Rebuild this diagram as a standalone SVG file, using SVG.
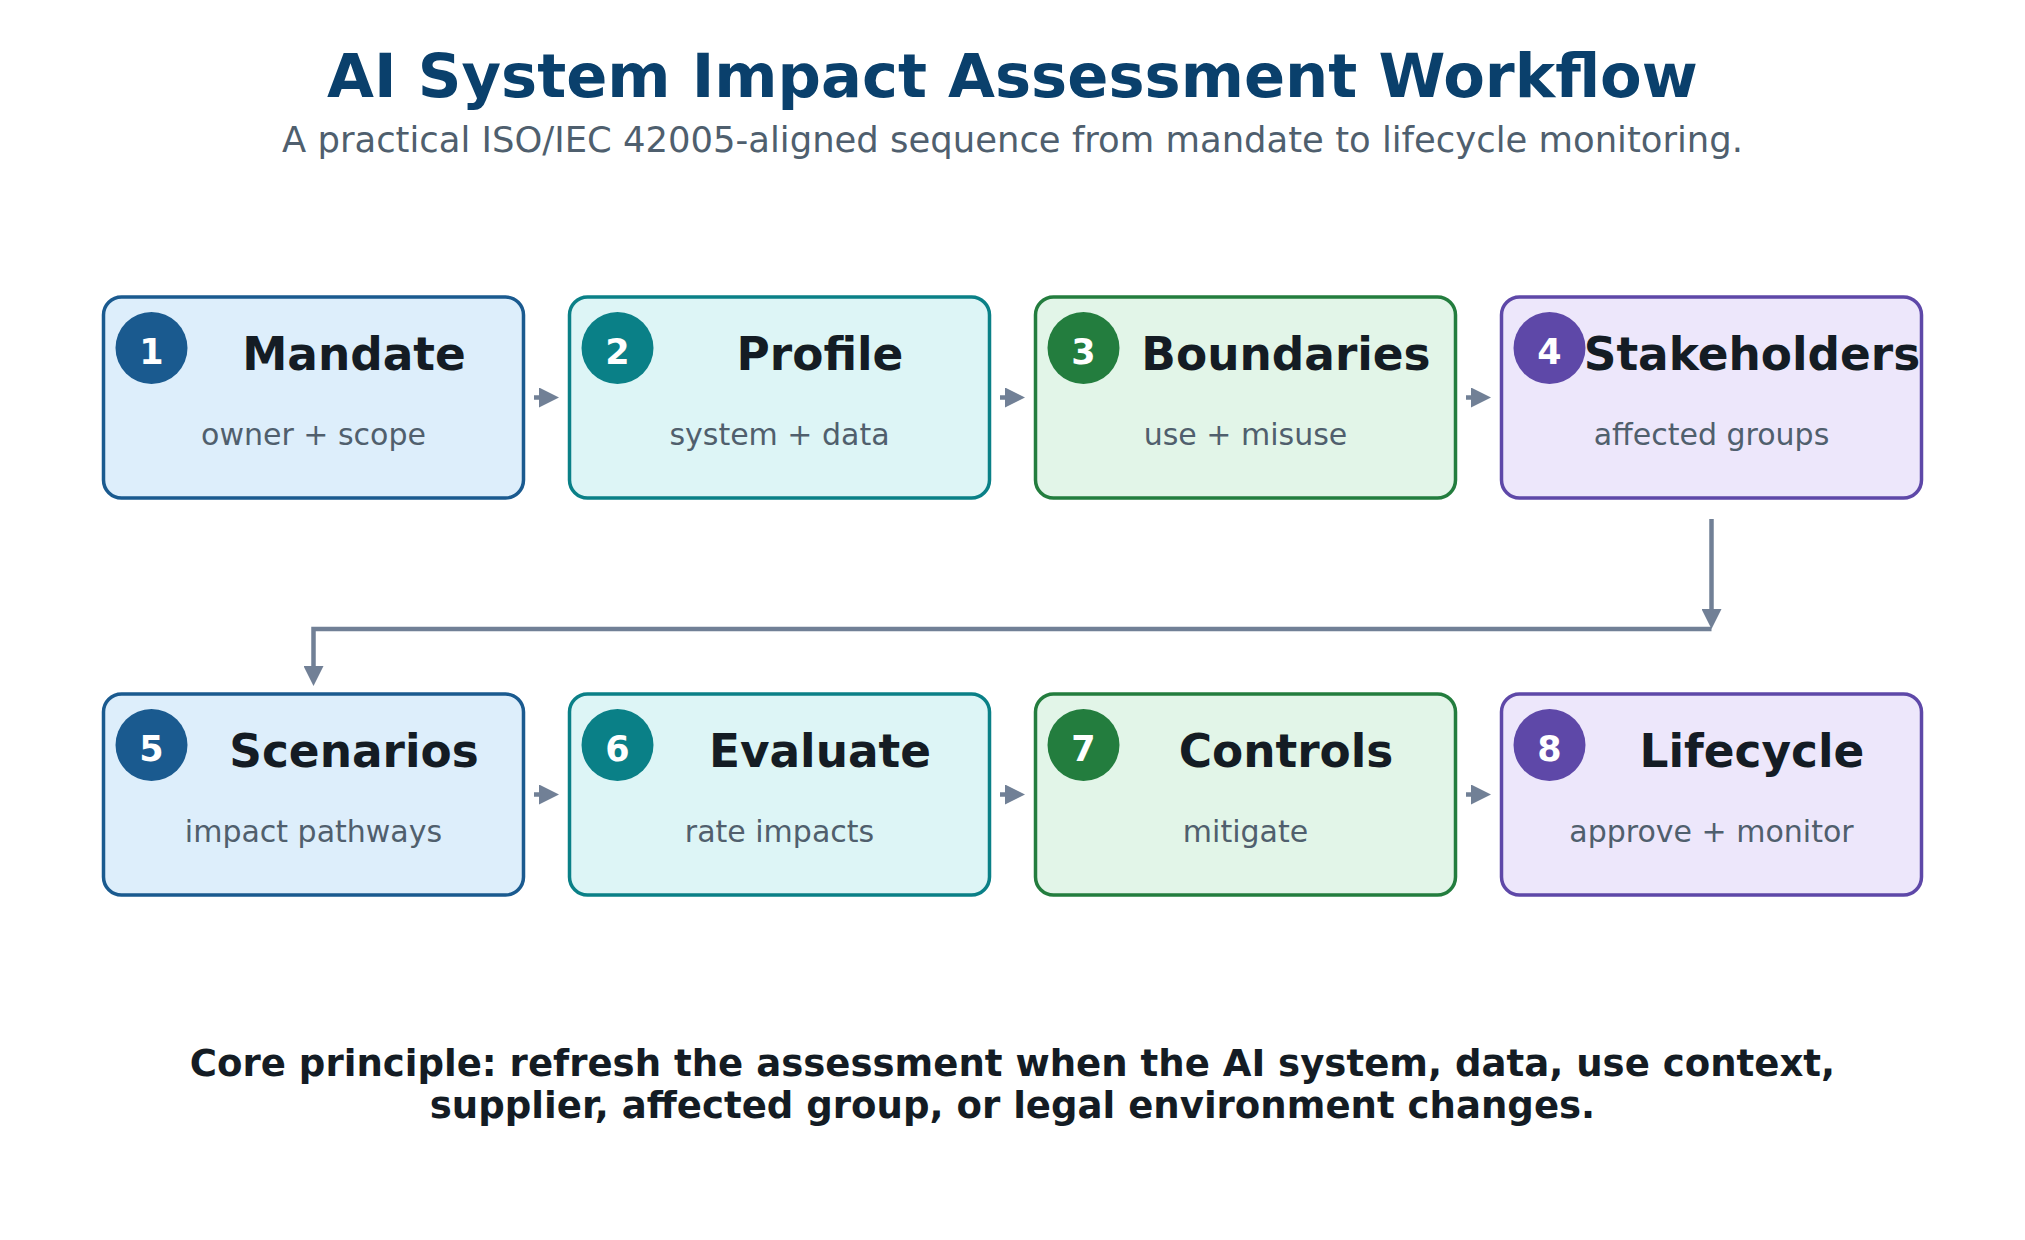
<svg xmlns="http://www.w3.org/2000/svg" width="2025" height="1240" viewBox="0 0 2025 1240">
  <defs>
    <marker id="arrow" markerUnits="userSpaceOnUse" markerWidth="20" markerHeight="20" refX="2" refY="10" orient="auto">
      <path d="M0,0 L20,10 L0,20 Z" fill="#718096"/>
    </marker>
  </defs>
  <style>
    text { font-family: "DejaVu Sans", "Liberation Sans", sans-serif; }
    .title { font-size: 60.7px; font-weight: bold; fill: #0a406c; text-anchor: middle; }
    .subtitle { font-size: 35.4px; fill: #4f5f6e; text-anchor: middle; }
    .box { stroke-width: 3.5; }
    .b1 { fill: #ddeefb; stroke: #1a5a8f; }
    .b2 { fill: #ddf5f6; stroke: #0a8087; }
    .b3 { fill: #e2f5e8; stroke: #237d3e; }
    .b4 { fill: #ede7fb; stroke: #5e48a8; }
    .c1 { fill: #1a5a8f; }
    .c2 { fill: #0a8087; }
    .c3 { fill: #237d3e; }
    .c4 { fill: #5e48a8; }
    .num { font-size: 35px; font-weight: bold; fill: #ffffff; text-anchor: middle; }
    .label { font-size: 45.4px; font-weight: bold; fill: #141c24; text-anchor: middle; }
    .sub { font-size: 30px; fill: #505f6d; text-anchor: middle; }
    .conn { fill: none; stroke: #718096; stroke-width: 4.5; marker-end: url(#arrow); }
    .note { font-size: 37.1px; font-weight: bold; fill: #141c24; text-anchor: middle; }
  </style>
  <rect x="0" y="0" width="2025" height="1240" fill="#ffffff"/>
  <g id="header">
    <text class="title" x="1012.5" y="97">AI System Impact Assessment Workflow</text>
    <text class="subtitle" x="1012.5" y="152">A practical ISO/IEC 42005-aligned sequence from mandate to lifecycle monitoring.</text>
  </g>
  <g id="connectors">
    <path class="conn" d="M534,397.5 H541"/>
    <path class="conn" d="M1000,397.5 H1007"/>
    <path class="conn" d="M1466,397.5 H1473"/>
    <path class="conn" d="M1711.5,519 V611"/>
    <path class="conn" d="M1711.5,629 H313.5 V668"/>
    <path class="conn" d="M534,794.5 H541"/>
    <path class="conn" d="M1000,794.5 H1007"/>
    <path class="conn" d="M1466,794.5 H1473"/>
  </g>
  <g id="node1">
    <rect class="box b1" x="103.5" y="297" width="420" height="201" rx="18"/>
    <circle class="c1" cx="151.5" cy="348" r="36"/>
    <text class="num" x="151.5" y="364">1</text>
    <text class="label" x="354" y="370">Mandate</text>
    <text class="sub" x="313.5" y="445">owner + scope</text>
  </g>
  <g id="node2">
    <rect class="box b2" x="569.5" y="297" width="420" height="201" rx="18"/>
    <circle class="c2" cx="617.5" cy="348" r="36"/>
    <text class="num" x="617.5" y="364">2</text>
    <text class="label" x="820" y="370">Profile</text>
    <text class="sub" x="779.5" y="445">system + data</text>
  </g>
  <g id="node3">
    <rect class="box b3" x="1035.5" y="297" width="420" height="201" rx="18"/>
    <circle class="c3" cx="1083.5" cy="348" r="36"/>
    <text class="num" x="1083.5" y="364">3</text>
    <text class="label" x="1286" y="370">Boundaries</text>
    <text class="sub" x="1245.5" y="445">use + misuse</text>
  </g>
  <g id="node4">
    <rect class="box b4" x="1501.5" y="297" width="420" height="201" rx="18"/>
    <circle class="c4" cx="1549.5" cy="348" r="36"/>
    <text class="num" x="1549.5" y="364">4</text>
    <text class="label" x="1752" y="370">Stakeholders</text>
    <text class="sub" x="1711.5" y="445">affected groups</text>
  </g>
  <g id="node5">
    <rect class="box b1" x="103.5" y="694" width="420" height="201" rx="18"/>
    <circle class="c1" cx="151.5" cy="745" r="36"/>
    <text class="num" x="151.5" y="761">5</text>
    <text class="label" x="354" y="767">Scenarios</text>
    <text class="sub" x="313.5" y="842">impact pathways</text>
  </g>
  <g id="node6">
    <rect class="box b2" x="569.5" y="694" width="420" height="201" rx="18"/>
    <circle class="c2" cx="617.5" cy="745" r="36"/>
    <text class="num" x="617.5" y="761">6</text>
    <text class="label" x="820" y="767">Evaluate</text>
    <text class="sub" x="779.5" y="842">rate impacts</text>
  </g>
  <g id="node7">
    <rect class="box b3" x="1035.5" y="694" width="420" height="201" rx="18"/>
    <circle class="c3" cx="1083.5" cy="745" r="36"/>
    <text class="num" x="1083.5" y="761">7</text>
    <text class="label" x="1286" y="767">Controls</text>
    <text class="sub" x="1245.5" y="842">mitigate</text>
  </g>
  <g id="node8">
    <rect class="box b4" x="1501.5" y="694" width="420" height="201" rx="18"/>
    <circle class="c4" cx="1549.5" cy="745" r="36"/>
    <text class="num" x="1549.5" y="761">8</text>
    <text class="label" x="1752" y="767">Lifecycle</text>
    <text class="sub" x="1711.5" y="842">approve + monitor</text>
  </g>
  <g id="footer">
    <text class="note" x="1012.5" y="1076">Core principle: refresh the assessment when the AI system, data, use context,</text>
    <text class="note" x="1012.5" y="1118">supplier, affected group, or legal environment changes.</text>
  </g>
</svg>
